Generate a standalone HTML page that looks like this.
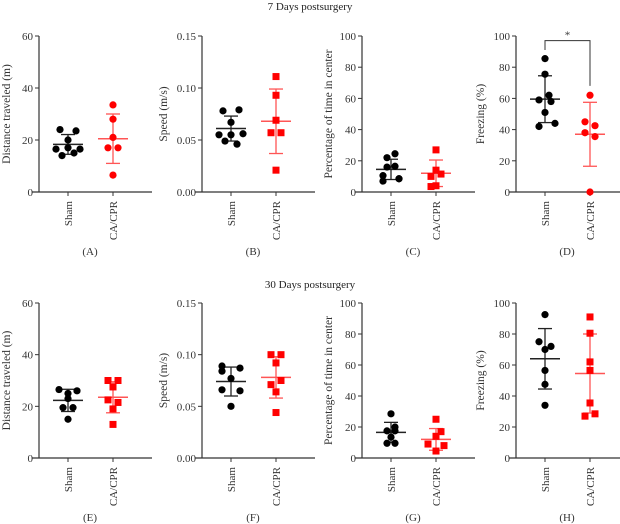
<!DOCTYPE html>
<html><head><meta charset="utf-8"><style>
html,body{margin:0;padding:0;background:#fff}
svg{display:block;font-family:"Liberation Serif",serif}
</style></head><body>
<svg id="fig" width="620" height="524" viewBox="0 0 620 524">
<text x="310" y="10" text-anchor="middle" font-size="11" fill="#222">7 Days postsurgery</text>
<text x="310" y="288" text-anchor="middle" font-size="11" fill="#222">30 Days postsurgery</text>
</svg>
<script>
// Data arrays
const panelLetters = ["A","B","C","D","E","F","G","H"];
const yTitles = ["Distance traveled (m)","Speed (m/s)","Percentage of time in center","Freezing (%)","Distance traveled (m)","Speed (m/s)","Percentage of time in center","Freezing (%)"];
const yMax = [60,0.15,100,100,60,0.15,100,100];
const tickA = ["0","20","40","60"];
const tickB = ["0.00","0.05","0.10","0.15"];
const tickC = ["0","20","40","60","80","100"];
const categories = ["Sham","CA/CPR"];
const shamValues = [
 [24,23.5,20,16.5,16.5,17,14,15],
 [0.078,0.079,0.067,0.055,0.056,0.055,0.049,0.046],
 [24.5,22,16,16.5,10.5,8.5,7,8.5],
 [85.5,75.5,62,59,58,51,44,42],
 [26.5,26,25,23,19.5,19.5,15],
 [0.089,0.087,0.084,0.077,0.066,0.065,0.050],
 [28.5,20,17.5,17.5,13.5,9.5,9.5],
 [92.5,75,72,70,56.5,47.5,34]
];
const cprValues = [
 [33.5,28,21,17,17,6.5],
 [0.111,0.093,0.069,0.057,0.057,0.021],
 [27,14,11.5,10,4,3.5],
 [62,45,42.5,38,35.5,0],
 [30,30,27.5,22.5,21.5,19,13],
 [0.100,0.100,0.092,0.075,0.071,0.064,0.044],
 [25,17,14,9,8,4.5],
 [91,80.5,62,56.5,35.5,27,28.5]
];
const shamMean = [18.3,0.061,14.5,59.5,22.3,0.074,16.5,64];
const shamSD = [3.8,0.012,6.5,15,4.3,0.014,6.5,19.5];
const cprMean = [20.5,0.068,12,37,23.5,0.078,12,54.5];
const cprSD = [9.5,0.031,8.5,20.5,6,0.020,7,25.5];
const cprSquare = [false,true,true,false,true,true,true,true];
const jitterSham = [[-8,8,0,-12,12,0,-6,6],[-8,8,0,-12,12,0,-6,6],[4,-4,-4,4,-8,8,-8,8],[0,0,4,-6,6,0,10,-6],[-9,9,0,0,-5,5,0],[-9,9,-9,0,-9,9,0],[0,4,-4,4,0,-4,4],[0,-6,6,0,0,0,0]];
const jitterCpr = [[0,0,0,-5,5,0],[0,0,0,-5,5,0],[0,0,5,-5,0,-5],[0,-5,5,-5,5,0],[-5,5,0,-5,5,0,0],[-5,5,0,5,-5,0,0],[0,5,0,-8,8,0],[0,0,0,0,0,-5,5]];

const svg = document.getElementById('fig');
const NS = "http://www.w3.org/2000/svg";
function mk(tag, attrs, parent){const e=document.createElementNS(NS,tag);for(const k in attrs)e.setAttribute(k,attrs[k]);(parent||svg).appendChild(e);return e;}
const axisXs = [39,202,362,516];
const titleOff = [29,35,30,32];
for(let p=0;p<8;p++){
  const g = mk('g',{});
  
  
  const ax = axisXs[p%4];
  const top = p<4?36:303, bot = p<4?192:458;
  const ymax = yMax[p];
  const y = v => bot - (v/ymax)*(bot-top);
  const ticks = ymax===60?tickA:(ymax<1?tickB:tickC);
  const ya = mk('line',{x1:ax,x2:ax,y1:top,y2:bot,stroke:'#333','stroke-width':1.2},g);
  
  
  const xa = mk('line',{x1:ax-7,x2:ax+113,y1:bot,y2:bot,stroke:'#333','stroke-width':1.2},g);
  
  
  ticks.forEach((t,i)=>{
    const v = ymax*i/(ticks.length-1);
    mk('line',{x1:ax-4,x2:ax,y1:y(v),y2:y(v),stroke:'#333'},g);
    const tx = mk('text',{x:ax-6,y:y(v)+4,'text-anchor':'end','font-size':11,fill:'#333'},g);
    tx.textContent=t;
    
    
  });
  const yt = mk('text',{transform:`translate(${ax-titleOff[p%4]},${(top+bot)/2}) rotate(-90)`,'text-anchor':'middle','font-size':11.5,fill:'#333'},g);
  yt.textContent = yTitles[p];
  
  
  const cx = [ax+29, ax+74];
  categories.forEach((c,i)=>{
    mk('line',{x1:cx[i],x2:cx[i],y1:bot,y2:bot+4,stroke:'#333'},g);
    const t = mk('text',{transform:`translate(${cx[i]+4},${bot+9}) rotate(-90)`,'text-anchor':'end','font-size':11,fill:'#333'},g);
    t.textContent=c;
    
    
  });
  const lt = mk('text',{x:ax+51,y:bot+63,'text-anchor':'middle','font-size':11,fill:'#333'},g);
  lt.textContent='('+panelLetters[p]+')';
  
  
  const groups = [
    {vals:shamValues[p],m:shamMean[p],sd:shamSD[p],col:'#000',sq:false,jit:jitterSham[p],x:cx[0],name:'sham'},
    {vals:cprValues[p],m:cprMean[p],sd:cprSD[p],col:'#f00',sq:cprSquare[p],jit:jitterCpr[p],x:cx[1],name:'cpr'}
  ];
  groups.forEach(G=>{
    const ec = G.name==='cpr'?'#f55':'#222';
    mk('line',{x1:G.x,x2:G.x,y1:y(G.m+G.sd),y2:y(G.m-G.sd),stroke:ec,'stroke-width':1.3},g);
    mk('line',{x1:G.x-7,x2:G.x+7,y1:y(G.m+G.sd),y2:y(G.m+G.sd),stroke:ec,'stroke-width':1.3},g);
    mk('line',{x1:G.x-7,x2:G.x+7,y1:y(G.m-G.sd),y2:y(G.m-G.sd),stroke:ec,'stroke-width':1.3},g);
    const ml = mk('line',{x1:G.x-15,x2:G.x+15,y1:y(G.m),y2:y(G.m),stroke:ec,'stroke-width':1.5},g);
    
    
    G.vals.forEach((v,i)=>{
      const px = G.x + (G.jit[i]||0), py = y(v);
      let e;
      if(G.sq) e = mk('rect',{x:px-3.5,y:py-3.5,width:7,height:7,fill:G.col},g);
      else e = mk('circle',{cx:px,cy:py,r:3.6,fill:G.col},g);
      
      
    });
  });
  if(p===3){
    const b = mk('polyline',{points:`${cx[0]},${y(91)} ${cx[0]},${y(97)} ${cx[1]},${y(97)} ${cx[1]},${y(68)}`,fill:'none',stroke:'#333','stroke-width':1},g);
    
    
    const s = mk('text',{x:(cx[0]+cx[1])/2,y:y(97)-2,'text-anchor':'middle','font-size':11,fill:'#333'},g);
    s.textContent='*';
    
    
  }
}
</script>
</body></html>
